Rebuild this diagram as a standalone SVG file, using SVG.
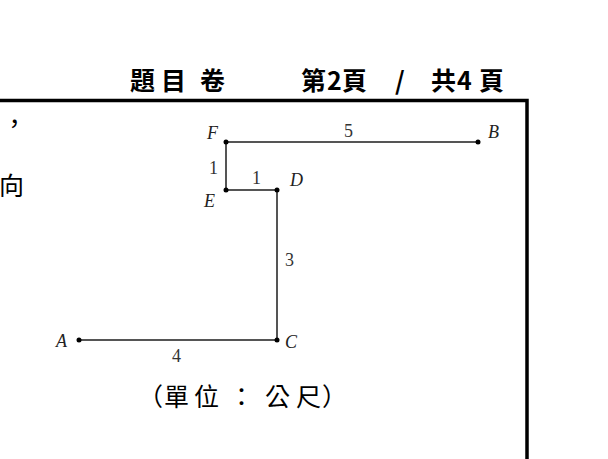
<svg xmlns="http://www.w3.org/2000/svg" width="608" height="459" viewBox="0 0 608 459">
<style>
.hdr{font-family:"Noto Sans CJK TC","Noto Sans CJK SC",sans-serif;font-size:25px;font-weight:bold;fill:#000}
.cjk{font-family:"Noto Sans CJK TC","Noto Sans CJK SC",sans-serif;font-size:25px;fill:#000}
.lbl{font-family:"Liberation Serif",serif;font-size:18px;font-style:italic;fill:#222}
.num{font-family:"Liberation Serif",serif;font-size:18px;fill:#333}
.seg{stroke:#555;stroke-width:2;fill:none}
.dot{fill:#000}
.frame{stroke:#000;stroke-width:3.5;fill:none}
</style>
<rect width="608" height="459" fill="#fff"/>
<g id="header">
<text class="hdr" y="90"><tspan x="130">題</tspan><tspan x="161">目</tspan><tspan x="200">卷</tspan></text>
<text class="hdr" y="90"><tspan x="301">第</tspan><tspan x="327">2</tspan><tspan x="342">頁</tspan><tspan x="395">/</tspan><tspan x="431">共</tspan><tspan x="457">4</tspan><tspan x="479">頁</tspan></text>
</g>
<g id="frame">
<path class="frame" d="M0 100.5 H527 V459"/>
</g>
<g id="side-text">
<text class="cjk" x="2" y="133">，</text>
<text class="cjk" x="-1" y="195">向</text>
</g>
<g id="connectors">
<line class="seg" x1="226" y1="142" x2="478" y2="142"/>
<line class="seg" x1="226" y1="142" x2="226" y2="190"/>
<line class="seg" x1="226" y1="190" x2="277" y2="190"/>
<line class="seg" x1="277" y1="190" x2="277" y2="340"/>
<line class="seg" x1="79" y1="340" x2="277" y2="340"/>
<text class="num" x="344" y="137">5</text>
<text class="num" x="209" y="174">1</text>
<text class="num" x="252" y="184">1</text>
<text class="num" x="285" y="266">3</text>
<text class="num" x="172" y="362">4</text>
</g>
<g id="node-F"><circle class="dot" cx="226" cy="142" r="2.5"/><text class="lbl" x="207" y="139">F</text></g>
<g id="node-B"><circle class="dot" cx="478" cy="142" r="2.5"/><text class="lbl" x="488" y="138">B</text></g>
<g id="node-E"><circle class="dot" cx="226" cy="190" r="2.5"/><text class="lbl" x="204" y="207">E</text></g>
<g id="node-D"><circle class="dot" cx="277" cy="190" r="2.5"/><text class="lbl" x="290" y="186">D</text></g>
<g id="node-C"><circle class="dot" cx="277" cy="340" r="2.5"/><text class="lbl" x="285" y="348">C</text></g>
<g id="node-A"><circle class="dot" cx="79" cy="340" r="2.5"/><text class="lbl" x="56" y="347">A</text></g>
<g id="unit">
<text class="cjk" y="406"><tspan x="138">（</tspan><tspan x="164">單</tspan><tspan x="194">位</tspan><tspan x="229">：</tspan><tspan x="265">公</tspan><tspan x="296">尺</tspan><tspan x="322">）</tspan></text>
</g>
</svg>
